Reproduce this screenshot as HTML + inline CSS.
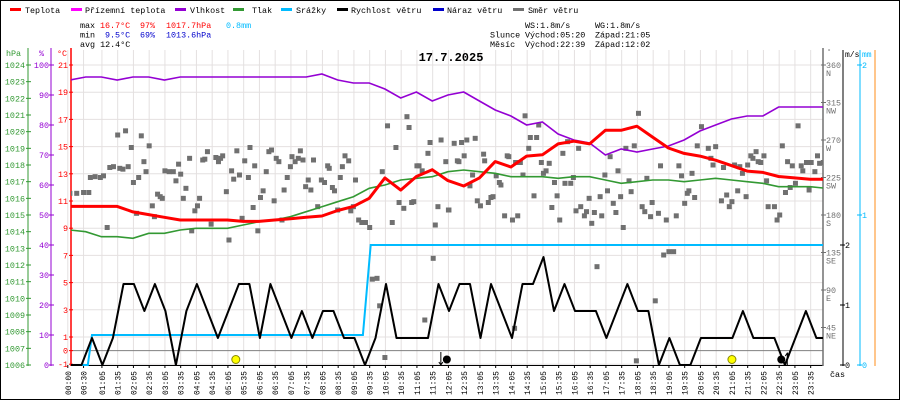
<!DOCTYPE html>
<html><head><meta charset="utf-8">
<style>
html,body{margin:0;padding:0;background:#fff;}
svg{display:block;font-family:"Liberation Mono",monospace;}
</style></head>
<body>
<svg id="chart" width="900" height="400" viewBox="0 0 900 400" xmlns="http://www.w3.org/2000/svg">
<defs><clipPath id="plotclip"><rect x="71" y="48" width="752" height="318"/></clipPath></defs>
<rect x="0.5" y="0.5" width="899" height="399" fill="#fff" stroke="#000"/>
<g id="grid"></g>
<g id="legend" font-size="8.4">
 <rect x="10" y="8" width="11" height="3" fill="#ff0000"/><text x="25" y="13">Teplota</text>
 <rect x="71" y="8" width="11" height="3" fill="#ff00ff"/><text x="85" y="13">Přízemní teplota</text>
 <rect x="175" y="8" width="11" height="3" fill="#9400d3"/><text x="190" y="13">Vlhkost</text>
 <rect x="233" y="8" width="11" height="3" fill="#339933"/><text x="252" y="13">Tlak</text>
 <rect x="281" y="8" width="11" height="3" fill="#00bbff"/><text x="296" y="13">Srážky</text>
 <rect x="337" y="8" width="11" height="3" fill="#000"/><text x="351" y="13">Rychlost větru</text>
 <rect x="433" y="8" width="11" height="3" fill="#0000cc"/><text x="447" y="13">Náraz větru</text>
 <rect x="513" y="8" width="11" height="3" fill="#707070"/><text x="528" y="13">Směr větru</text>
</g>
<g id="stats" font-size="8.4">
 <text x="80" y="28">max</text>
 <text x="100" y="28" fill="#ff0000">16.7°C</text>
 <text x="140" y="28" fill="#ff0000">97%</text>
 <text x="166" y="28" fill="#ff0000">1017.7hPa</text>
 <text x="226" y="28" fill="#00bbff">0.8mm</text>
 <text x="80" y="37.5">min</text>
 <text x="105" y="37.5" fill="#0000cc">9.5°C</text>
 <text x="140" y="37.5" fill="#0000cc">69%</text>
 <text x="166" y="37.5" fill="#0000cc">1013.6hPa</text>
 <text x="80" y="47">avg 12.4°C</text>
 <text x="525" y="28">WS:1.8m/s</text>
 <text x="595" y="28">WG:1.8m/s</text>
 <text x="490" y="37.5">Slunce</text>
 <text x="525" y="37.5">Východ:05:20</text>
 <text x="595" y="37.5">Západ:21:05</text>
 <text x="490" y="47">Měsíc</text>
 <text x="525" y="47">Východ:22:39</text>
 <text x="595" y="47">Západ:12:02</text>
</g>
<text x="451" y="61" font-size="12" font-weight="bold" text-anchor="middle">17.7.2025</text>
<g id="axes"></g>
<g id="series" clip-path="url(#plotclip)"></g>
<g id="markers"></g>
</svg>
<script>
// ---- data ----
const tickTimes = ["00:00","00:30","01:05","01:35","02:05","02:35","03:05","03:35","04:05","04:35","05:05","05:35","06:05","06:35","07:05","07:35","08:05","08:35","09:05","09:35","10:05","10:35","11:05","11:35","12:05","12:35","13:05","13:35","14:05","14:35","15:05","15:35","16:05","16:35","17:05","17:35","18:05","18:35","19:05","19:35","20:05","20:35","21:05","21:35","22:05","22:35","23:05","23:35"];
const tempValues = [10.6,10.6,10.6,10.6,10.2,10.0,9.8,9.6,9.6,9.6,9.6,9.5,9.5,9.6,9.7,9.8,9.9,10.3,10.6,11.2,12.7,11.8,12.8,13.3,12.5,12.1,12.7,13.9,13.5,14.3,14.4,15.2,15.4,15.2,16.2,16.2,16.5,15.7,14.9,14.5,14.3,14.0,13.6,13.2,13.1,12.8,12.7,12.6,12.6];
const humValues = [95,96,96,95,96,96,95,96,96,96,96,96,96,96,96,96,97,95,94,94,92,89,91,88,90,91,88,85,83,80,81,77,75,74,70,72,71,72,73,75,78,80,82,83,83,86,86,86,86];
const pressValues = [1014.1,1014.0,1013.7,1013.7,1013.6,1013.9,1013.9,1014.1,1014.2,1014.2,1014.2,1014.4,1014.6,1014.7,1014.9,1015.2,1015.5,1015.8,1016.1,1016.6,1016.8,1017.1,1017.2,1017.3,1017.6,1017.7,1017.6,1017.5,1017.3,1017.3,1017.3,1017.2,1017.3,1017.3,1017.1,1016.9,1017.0,1017.1,1017.1,1017.0,1017.1,1017.2,1017.1,1017.0,1016.9,1016.7,1016.7,1016.7,1016.6];
const windValues = [0,0,0.45,0,0.45,1.35,1.35,0.9,1.35,0.9,0,0.9,1.35,0.9,0.45,0.9,1.35,1.35,0.45,1.35,0.9,0.45,0.9,0.45,0.9,0.9,0.45,0.45,0,0.45,1.35,0.45,0.45,0.45,0.45,1.35,0.9,
 1.35,1.35,0.45,1.35,0.9,0.45,1.35,1.35,1.8,0.9,1.35,0.9,0.9,0.9,0.45,0.9,1.35,0.9,0.9,0,0.45,0,0,0.45,0.45,0.45,0.45,0.9,0.45,0.45,0.45,0,0.45,0.9,0.45,0.45];
const rainTimes = [0,38,46,562,577,1440];
const rainValues = [0,0,0.2,0.2,0.8,0.8];
const dirTimes = [0,4,17,30,40,43,52,62,68,75,80,87,95,99,105,110,115,121,125,131,135,140,145,149,155,161,165,171,176,180,185,193,201,206,211,215,220,225,232,236,242,247,251,257,261,266,273,282,287,291,295,302,307,312,316,322,327,332,337,344,347,353,356,362,367,372,378,383,388,393,397,402,408,412,418,424,427,433,439,443,448,453,458,463,468,476,483,489,495,498,504,508,514,519,523,528,535,539,544,548,554,560,567,575,580,589,594,599,604,609,618,625,631,640,646,650,655,659,665,669,675,680,686,690,696,700,705,711,720,725,
 726,736,742,745,750,755,760,766,771,776,780,786,792,794,801,806,810,816,822,825,832,837,840,847,851,853,857,862,867,871,878,881,888,893,897,902,906,911,917,922,927,932,937,943,947,952,958,963,968,973,977,984,988,993,998,1003,1008,1014,1017,1023,1028,1033,1039,1044,1048,1053,1058,1063,1069,1073,1079,1083,1087,1094,1099,1103,1110,1113,1119,1125,1129,1135,1140,1145,1154,1159,1164,1169,1175,1180,1183,1189,1194,1199,1207,1220,1225,1229,1234,1245,1249,1255,1260,1265,1270,1276,1280,1285,1292,1295,1301,1305,1311,1315,1320,1326,1331,1334,1346,1351,1356,1361,1367,1371,1376,1380,1386,1391,1397,1400,1407,1412,1416,1423,1428,1432,1439,1443];
const dirValues = [215,206,206,207,207,225,226,225,227,165,237,238,276,236,235,281,238,261,219,182,225,275,244,232,263,191,178,205,202,200,233,232,232,221,241,229,200,212,248,161,185,191,200,246,247,256,169,249,244,248,251,208,150,233,223,257,228,176,245,225,261,189,239,161,201,209,232,256,258,197,248,244,174,210,225,238,250,244,248,257,246,214,222,210,246,190,222,219,239,236,213,209,186,225,238,251,245,185,190,222,174,171,171,165,103,104,71,232,9,287,171,261,195,188,298,285,195,196,239,239,233,54,254,267,128,168,190,270,244,186,
 186,266,245,244,267,251,270,215,228,272,197,191,253,245,195,201,202,227,219,216,179,251,250,174,44,243,179,243,228,299,260,273,203,273,288,243,230,233,242,189,219,203,174,254,218,268,218,225,185,260,190,179,184,200,170,183,118,202,179,228,209,250,194,183,233,202,165,260,221,208,263,5,302,190,184,224,178,195,77,182,239,132,174,136,136,179,239,227,194,206,209,230,201,263,286,260,248,240,262,197,237,204,190,196,240,209,238,230,202,240,251,248,256,244,243,251,221,190,190,174,180,263,207,244,213,239,218,287,239,233,243,210,243,232,251,242,243,225];
const hpaTicks = [1024,1023,1022,1021,1020,1019,1018,1017,1016,1015,1014,1013,1012,1011,1010,1009,1008,1007,1006];
const humTicks = [100,90,80,70,60,50,40,30,20,10,0];
const tempTicks = [21,19,17,15,13,11,9,7,5,3,1,0,-1];
const dirTicks = [360,315,270,225,180,135,90,45];
const dirNames = ["N","NW","W","SW","S","SE","E","NE"];
const windTicks = [2,1,0];
const rainTicks = [2,1,0];
const sunEvents = [320,1265];   // sunrise, sunset (minutes)
const moonEvents = [722,1359];  // moonset, moonrise

// ---- scales ----
const NS="http://www.w3.org/2000/svg";
function xT(t){return 67.8+0.525*t;}
function yTemp(v){return 65+(21-v)*13.6;}
function yHum(v){return 65+(100-v)*3;}
function yP(v){return 65+(1024-v)*16.667;}
function yWind(v){return 365-v*60;}
function yRain(v){return 365-v*150;}
function yDir(v){return 365-v/1.2;}
function parseT(s){const p=s.split(":");return (+p[0])*60+(+p[1]);}
function mk(tag,attrs,parent,txt){const e=document.createElementNS(NS,tag);for(const k in attrs)e.setAttribute(k,attrs[k]);if(txt!==undefined)e.textContent=txt;parent.appendChild(e);return e;}
const grid=document.getElementById('grid'),axes=document.getElementById('axes'),series=document.getElementById('series'),markers=document.getElementById('markers');

// grid
tickTimes.forEach(s=>{const x=xT(parseT(s));
 const l=mk('line',{x1:x,x2:x,y1:50,y2:365,stroke:'#e4e0e0','stroke-width':1},grid);
 
 
 const t=mk('text',{x:0,y:0,'font-size':8,'text-anchor':'end',transform:'translate('+(x+3)+',371) rotate(-90)'},axes,s);
 
 
 const tk=mk('line',{x1:x,x2:x,y1:365,y2:368,stroke:'#000'},axes);
 
 
});
tempTicks.forEach(v=>{const y=yTemp(v);
 const l=mk('line',{x1:71,x2:823,y1:y,y2:y,stroke:v===0?'#808080':'#e4e0e0','stroke-width':1},grid);
 
 
});

// left axes
let a;
a=mk('line',{x1:28,x2:28,y1:48,y2:366,stroke:'#339933'},axes);


a=mk('line',{x1:51,x2:51,y1:48,y2:366,stroke:'#9400d3'},axes);


a=mk('line',{x1:71,x2:71,y1:48,y2:366,stroke:'#ff0000','stroke-width':1.5},axes);


a=mk('text',{x:6,y:56,'font-size':8.4,fill:'#339933'},axes,'hPa');


a=mk('text',{x:39,y:56,'font-size':8.4,fill:'#9400d3'},axes,'%');


a=mk('text',{x:57,y:56,'font-size':8.4,fill:'#ff0000'},axes,'°C');


hpaTicks.forEach(v=>{const y=yP(v);
 const t=mk('text',{x:25,y:y+3,'font-size':8.4,fill:'#339933','text-anchor':'end'},axes,String(v));
 
 
 const k=mk('line',{x1:26,x2:31,y1:y,y2:y,stroke:'#339933'},axes);
 
 
});
humTicks.forEach(v=>{const y=yHum(v);
 const t=mk('text',{x:49,y:y+3,'font-size':8.4,fill:'#9400d3','text-anchor':'end'},axes,String(v));
 
 
 const k=mk('line',{x1:49,x2:54,y1:y,y2:y,stroke:'#9400d3'},axes);
 
 
});
tempTicks.forEach(v=>{const y=yTemp(v);
 const t=mk('text',{x:68,y:y+3,'font-size':8.4,fill:'#ff0000','text-anchor':'end'},axes,String(v));
 
 
 const k=mk('line',{x1:69,x2:73,y1:y,y2:y,stroke:'#ff0000'},axes);
 
 
});
a=mk('line',{x1:71,x2:823,y1:365.5,y2:365.5,stroke:'#000'},axes);


a=mk('text',{x:830,y:377,'font-size':8.4},axes,'čas');



// right axes
a=mk('line',{x1:823,x2:823,y1:48,y2:366,stroke:'#707070','stroke-width':1.5},axes);


a=mk('text',{x:827,y:54,'font-size':7,fill:'#707070'},axes,'°');


dirTicks.forEach((v,i)=>{const y=yDir(v);
 const k=mk('line',{x1:821,x2:826,y1:y,y2:y,stroke:'#707070'},axes);
 
 
 const t=mk('text',{x:826,y:y+3,'font-size':8.4,fill:'#707070'},axes,String(v));
 
 
 const n=mk('text',{x:826,y:y+11,'font-size':8.4,fill:'#707070'},axes,dirNames[i]);
 
 
});
a=mk('line',{x1:843,x2:843,y1:50,y2:366,stroke:'#000'},axes);


a=mk('text',{x:845,y:57,'font-size':8},axes,'m/s');


windTicks.forEach(v=>{const y=yWind(v);
 const k=mk('line',{x1:840,x2:845,y1:y,y2:y,stroke:'#000'},axes);
 
 
 const t=mk('text',{x:845,y:y+3,'font-size':8.4},axes,String(v));
 
 
});
a=mk('line',{x1:860,x2:860,y1:50,y2:366,stroke:'#00bbff'},axes);


a=mk('text',{x:862,y:57,'font-size':8,fill:'#00bbff'},axes,'mm');


rainTicks.forEach(v=>{const y=yRain(v);
 const k=mk('line',{x1:857,x2:862,y1:y,y2:y,stroke:'#00bbff'},axes);
 
 
 const t=mk('text',{x:862,y:y+3,'font-size':8.4,fill:'#00bbff'},axes,String(v));
 
 
});
a=mk('line',{x1:875,x2:875,y1:50,y2:366,stroke:'#ff8c1a'},axes);



// series
function pts(times,vals,yf){return vals.map((v,i)=>xT(times[i]).toFixed(1)+','+yf(v).toFixed(1)).join(' ');}
const halfHour = tempValues.map((v,i)=>4+i*30);
const windTimes = windValues.map((v,i)=>6+i*20);

dirValues.forEach((v,i)=>{
 const r=mk('rect',{x:xT(dirTimes[i])-2.5,y:yDir(v)-2.5,width:5,height:5,fill:'#707070'},series);
 
 
});
let s;
s=mk('polyline',{points:pts(rainTimes,rainValues,yRain),fill:'none',stroke:'#00bbff','stroke-width':2},series);


s=mk('polyline',{points:pts(windTimes,windValues,yWind),fill:'none',stroke:'#000','stroke-width':2,'stroke-linejoin':'round'},series);


s=mk('polyline',{points:pts(halfHour,pressValues,yP),fill:'none',stroke:'#339933','stroke-width':1.6},series);


s=mk('polyline',{points:pts(halfHour,humValues,yHum),fill:'none',stroke:'#9400d3','stroke-width':1.6},series);


s=mk('polyline',{points:pts(halfHour,tempValues,yTemp),fill:'none',stroke:'#ff0000','stroke-width':3,'stroke-linejoin':'round'},series);



// sun / moon markers
sunEvents.forEach(t=>{
 const c=mk('circle',{cx:xT(t),cy:359.5,r:4,fill:'#ffff00',stroke:'#888800','stroke-width':1},markers);
 
 
});
moonEvents.forEach((t,i)=>{
 const x=xT(t);
 const c=mk('circle',{cx:x,cy:359.5,r:4,fill:'#000'},markers);
 
 
 const ax=i===0?x-6:x+6;
 const ar=mk('path',{d:i===0?('M'+ax+',352 L'+ax+',365 M'+(ax-2)+',362 L'+ax+',365 L'+(ax+2)+',362'):('M'+ax+',366 L'+ax+',353 M'+(ax-2)+',356 L'+ax+',353 L'+(ax+2)+',356'),stroke:'#000',fill:'none','stroke-width':1},markers);
 
 
});
</script>
</body></html>
